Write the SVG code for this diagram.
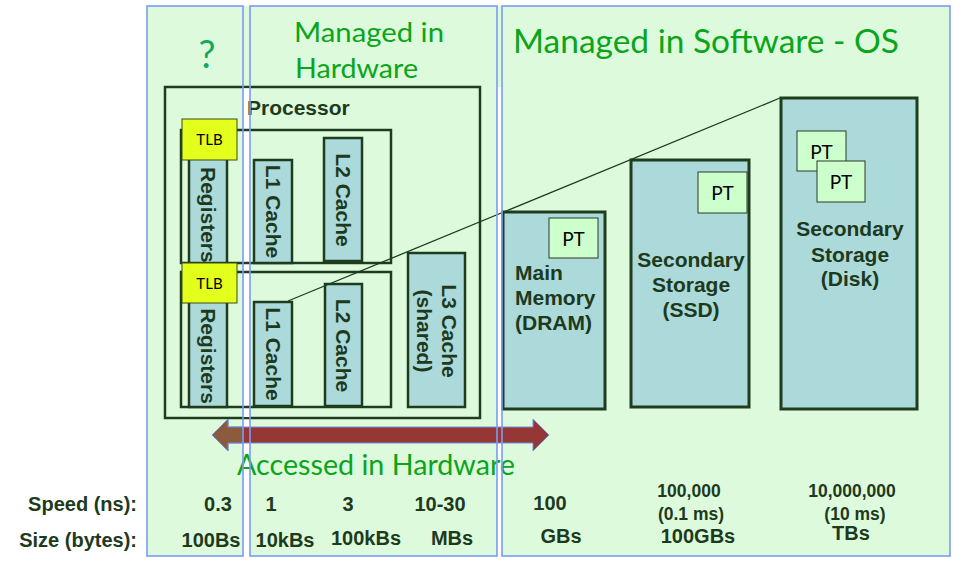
<svg xmlns="http://www.w3.org/2000/svg" width="963" height="562" viewBox="0 0 963 562">
<style>
.panel{fill:#ddfbdc;stroke:none}
.pb{fill:none;stroke:#7b9cf5;stroke-width:1.6}
.box{fill:#acd9d9;stroke:#1e3d1e;stroke-width:2.5}
.big{fill:#acd9d9;stroke:#1e3d1e;stroke-width:3}
.frame{fill:none;stroke:#1e3d1e;stroke-width:2.5}
.tlb{fill:#e3ff1c;stroke:#3c4a1c;stroke-width:1}
.pt{fill:#ccffcc;stroke:#2a3a2a;stroke-width:1}
.bt{font-family:"Liberation Sans",Arial,sans-serif;font-weight:bold;font-size:21px;fill:#1d3a1d}
.lab{font-family:"Liberation Sans",Arial,sans-serif;font-weight:bold;font-size:20px;fill:#1d3a1d}
.sm{font-family:"Liberation Sans",Arial,sans-serif;font-weight:bold;font-size:17.5px;fill:#1d3a1d}
.cal{font-family:Lato,"Open Sans",sans-serif;fill:#000}
.grn{font-family:Lato,"Open Sans",sans-serif;fill:#0aa51a}
</style>
<defs>
<clipPath id="leftclip"><rect x="0" y="0" width="243" height="562"/></clipPath>
</defs>
<rect x="0" y="0" width="963" height="562" fill="#ffffff"/>
<g id="panels">
<rect class="panel" x="147" y="6" width="803" height="81"/>
<rect class="panel" x="147" y="6" width="96" height="550"/>
<rect class="panel" x="250" y="6" width="247" height="550"/>
<rect class="panel" x="502" y="6" width="448" height="550"/>
</g>
<g id="titles">
<text class="grn" x="207" y="68" font-size="38" text-anchor="middle" style="fill:#14a85a">?</text>
<text class="grn" x="294" y="42" font-size="26" textLength="150" lengthAdjust="spacingAndGlyphs">Managed in</text>
<text class="grn" x="295" y="78" font-size="26" textLength="123" lengthAdjust="spacingAndGlyphs">Hardware</text>
<text class="grn" x="513" y="53" font-size="32" textLength="386" lengthAdjust="spacingAndGlyphs">Managed in Software - OS</text>
</g>
<g id="processor">
<rect class="frame" x="165" y="87" width="315" height="331"/>
<rect x="243.5" y="88.5" width="6" height="328.5" fill="#ffffff"/>
<text class="bt" x="247" y="115">Processor</text>
</g>
<g id="core1">
<rect class="frame" x="181" y="130" width="210" height="133"/>
<g id="registers1">
<rect class="box" x="189" y="150" width="38" height="113"/>
<text class="bt" transform="translate(208,167) rotate(90)" x="0" y="7.5">Registers</text>
</g>
<g id="l1cache1">
<rect class="box" x="254" y="160" width="38" height="103"/>
<text class="bt" transform="translate(273,211.5) rotate(90)" x="0" y="7.5" text-anchor="middle">L1 Cache</text>
</g>
<g id="l2cache1">
<rect class="box" x="324" y="138" width="38" height="123"/>
<text class="bt" transform="translate(343,200) rotate(90)" x="0" y="7.5" text-anchor="middle">L2 Cache</text>
</g>
<g id="tlb1">
<rect class="tlb" x="182" y="119" width="55" height="41"/>
<text class="cal" x="209.5" y="145" font-size="15" text-anchor="middle">TLB</text>
</g>
</g>
<g id="core2">
<rect class="frame" x="181" y="272" width="210" height="135"/>
<g id="registers2">
<rect class="box" x="189" y="295" width="38" height="112"/>
<text class="bt" transform="translate(208,356) rotate(90)" x="0" y="7.5" text-anchor="middle">Registers</text>
</g>
<g id="l1cache2">
<rect class="box" x="254" y="302" width="38" height="104"/>
<text class="bt" transform="translate(273,354) rotate(90)" x="0" y="7.5" text-anchor="middle">L1 Cache</text>
</g>
<g id="l2cache2">
<rect class="box" x="325" y="284" width="37" height="122"/>
<text class="bt" transform="translate(343.5,345.5) rotate(90)" x="0" y="7.5" text-anchor="middle">L2 Cache</text>
</g>
<g id="tlb2">
<rect class="tlb" x="182" y="263" width="55" height="40"/>
<text class="cal" x="209.5" y="289" font-size="15" text-anchor="middle">TLB</text>
</g>
</g>
<g id="l3cache">
<rect class="box" x="408" y="253" width="57" height="154"/>
<text class="bt" transform="translate(436.5,331) rotate(90)" text-anchor="middle"><tspan x="0" y="-5">L3 Cache</tspan><tspan x="0" y="20">(shared)</tspan></text>
</g>
<g id="connectors">
<line x1="288" y1="301" x2="780" y2="98" stroke="#1e3d1e" stroke-width="1.3"/>
<g id="arrow">
<polygon points="212,435 228,419 228,427 533,427 533,419 549,435 533,451 533,443 228,443 228,451" fill="#953735" stroke="#6f8ee0" stroke-width="1"/>
<polygon clip-path="url(#leftclip)" points="212,435 228,419 228,427 533,427 533,419 549,435 533,451 533,443 228,443 228,451" fill="#8c5a3c" stroke="#6f8ee0" stroke-width="1"/>
</g>
</g>
<text class="grn" x="237" y="475" font-size="28" textLength="278" lengthAdjust="spacingAndGlyphs">Accessed in Hardware</text>
<g id="dram">
<rect class="big" x="503" y="212" width="102" height="197"/>
<rect class="pt" x="549" y="218" width="49" height="40"/>
<text class="cal" x="573.5" y="246" font-size="19" text-anchor="middle">PT</text>
<text class="bt" x="515" y="280">Main</text>
<text class="bt" x="515" y="305">Memory</text>
<text class="bt" x="515" y="330">(DRAM)</text>
</g>
<g id="ssd">
<rect class="big" x="631" y="160" width="118" height="247"/>
<rect class="pt" x="698" y="172" width="49" height="41"/>
<text class="cal" x="722.5" y="200" font-size="19" text-anchor="middle">PT</text>
<text class="bt" x="691" y="267" text-anchor="middle">Secondary</text>
<text class="bt" x="691" y="292" text-anchor="middle">Storage</text>
<text class="bt" x="691" y="317" text-anchor="middle">(SSD)</text>
</g>
<g id="disk">
<rect class="big" x="781" y="98" width="136" height="311"/>
<rect class="pt" x="797" y="131" width="49" height="40"/>
<text class="cal" x="821.5" y="159" font-size="19" text-anchor="middle">PT</text>
<rect class="pt" x="817" y="161" width="48" height="41"/>
<text class="cal" x="841" y="189" font-size="19" text-anchor="middle">PT</text>
<text class="bt" x="850" y="236" text-anchor="middle">Secondary</text>
<text class="bt" x="850" y="262" text-anchor="middle">Storage</text>
<text class="bt" x="850" y="286" text-anchor="middle">(Disk)</text>
</g>
<g id="borders">
<rect class="pb" x="147" y="6" width="96" height="550"/>
<rect class="pb" x="250" y="6" width="247" height="550"/>
<rect class="pb" x="502" y="6" width="448" height="550"/>
</g>
<g id="table">
<text class="lab" x="137" y="511" text-anchor="end">Speed (ns):</text>
<text class="lab" x="137" y="547" text-anchor="end">Size (bytes):</text>
<text class="lab" x="218" y="511" text-anchor="middle">0.3</text>
<text class="lab" x="211" y="547" text-anchor="middle">100Bs</text>
<text class="lab" x="271" y="511" text-anchor="middle">1</text>
<text class="lab" x="348" y="511" text-anchor="middle">3</text>
<text class="lab" x="440" y="511" text-anchor="middle">10-30</text>
<text class="lab" x="285" y="547" text-anchor="middle">10kBs</text>
<text class="lab" x="366" y="545" text-anchor="middle">100kBs</text>
<text class="lab" x="452" y="545" text-anchor="middle">MBs</text>
<text class="lab" x="550" y="510" text-anchor="middle">100</text>
<text class="lab" x="561" y="543" text-anchor="middle">GBs</text>
<text class="sm" x="689" y="497" text-anchor="middle">100,000</text>
<text class="sm" x="691" y="520" text-anchor="middle">(0.1 ms)</text>
<text class="lab" x="698" y="543" text-anchor="middle">100GBs</text>
<text class="sm" x="852" y="497" text-anchor="middle">10,000,000</text>
<text class="sm" x="855" y="520" text-anchor="middle">(10 ms)</text>
<text class="lab" x="851" y="540" text-anchor="middle">TBs</text>
</g>
</svg>
